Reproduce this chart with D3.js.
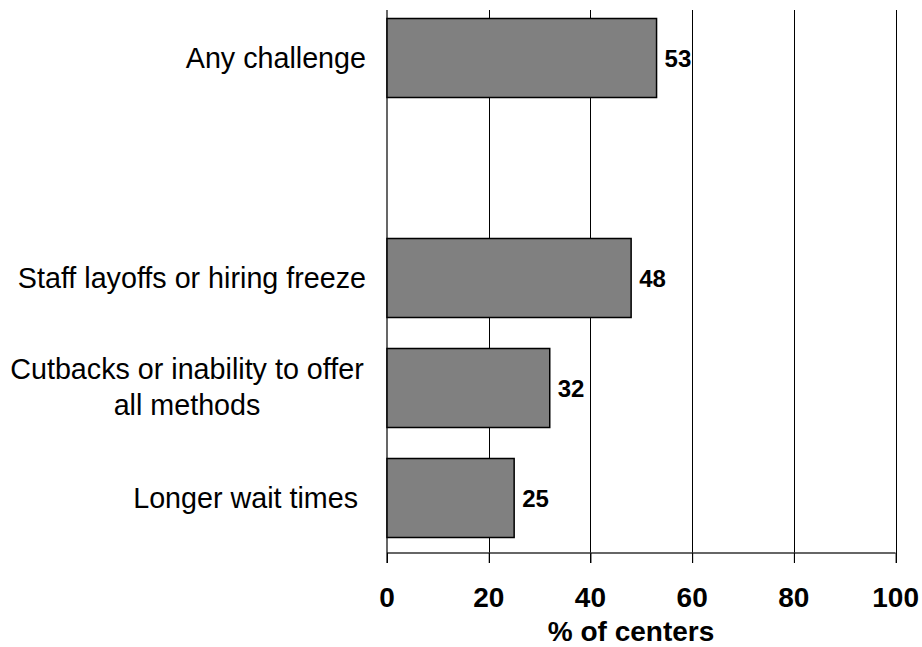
<!DOCTYPE html>
<html><head><meta charset="utf-8">
<script src="https://cdn.jsdelivr.net/npm/d3@7"></script>
<style>body{margin:0;background:#fff}svg{display:block}</style>
</head><body>
<svg id="c" width="922" height="647"></svg>
<script>
const categories = ["Any challenge", "gap", "Staff layoffs or hiring freeze", "Cutbacks or inability to offer all methods", "Longer wait times"];
const labelLines = [["Any challenge"], [], ["Staff layoffs or hiring freeze"], ["Cutbacks or inability to offer", "all methods"], ["Longer wait times\u00a0"]];
const values = [53, null, 48, 32, 25];
const xTicks = [0, 20, 40, 60, 80, 100];
const xTitle = "% of centers";

const svg = d3.select("#c");
const x = d3.scaleLinear().domain([0, 100]).range([387, 895.6]);
const y = d3.scaleBand().domain(categories).range([3, 553]).paddingInner(0.2818).paddingOuter(0.1409);
const font = "'Liberation Sans', Arial, sans-serif";
const plotTop = 10, axisY = 553;

// gridlines
svg.append("g").selectAll("line").data(xTicks.slice(1)).join("line")
  .attr("x1", d => Math.round(x(d)) + 0.5).attr("x2", d => Math.round(x(d)) + 0.5)
  .attr("y1", plotTop).attr("y2", axisY + 10)
  .attr("stroke", "#000").attr("stroke-width", 1);

// bottom axis
const ax = svg.append("g").attr("transform", `translate(0,${axisY})`)
  .call(d3.axisBottom(x).tickValues(xTicks).tickSize(10).tickPadding(0).tickFormat(""));
ax.select(".domain").attr("stroke", "#333").attr("stroke-width", 1.5).attr("d", `M${x(0)},0H${x(100)}`);
ax.selectAll(".tick line").attr("stroke", "#000");

// left axis line
svg.append("line").attr("x1", x(0)).attr("x2", x(0)).attr("y1", plotTop).attr("y2", axisY + 10)
  .attr("stroke", "#000").attr("stroke-width", 1.2);

// tick labels
svg.append("g").selectAll("text").data(xTicks).join("text")
  .attr("x", d => x(d)).attr("y", 607).attr("text-anchor", "middle")
  .attr("font-family", font).attr("font-weight", "bold").attr("font-size", 28)
  .text(d => d);

svg.append("text").attr("x", 631).attr("y", 641).attr("text-anchor", "middle")
  .attr("font-family", font).attr("font-weight", "bold").attr("font-size", 28).text(xTitle);

const data = categories.map((c, i) => ({c, v: values[i], lines: labelLines[i]})).filter(d => d.v != null);

// bars
svg.append("g").selectAll("rect").data(data).join("rect")
  .attr("x", x(0)).attr("y", d => y(d.c))
  .attr("width", d => x(d.v) - x(0)).attr("height", y.bandwidth())
  .attr("fill", "#808080").attr("stroke", "#000").attr("stroke-width", 1.5);

// value labels
svg.append("g").selectAll("text").data(data).join("text")
  .attr("x", d => x(d.v) + 8).attr("y", d => y(d.c) + y.bandwidth() / 2 + 8.5)
  .attr("font-family", font).attr("font-weight", "bold").attr("font-size", 24)
  .text(d => d.v);

// category labels
const cl = svg.append("g").selectAll("text").data(data).join("text")
  .attr("font-family", font).attr("font-size", 28.7)
  .style("white-space", "pre");
cl.each(function(d) {
  const cy = y(d.c) + y.bandwidth() / 2;
  const t = d3.select(this);
  if (d.lines.length === 1) {
    t.attr("text-anchor", "end");
    t.append("tspan").attr("x", 366).attr("y", cy + 10).text(d.lines[0]);
  } else {
    t.attr("text-anchor", "middle");
    t.append("tspan").attr("x", 187).attr("y", cy - 9).text(d.lines[0]);
    t.append("tspan").attr("x", 187).attr("y", cy + 27).text(d.lines[1]);
  }
});
</script>
</body></html>
